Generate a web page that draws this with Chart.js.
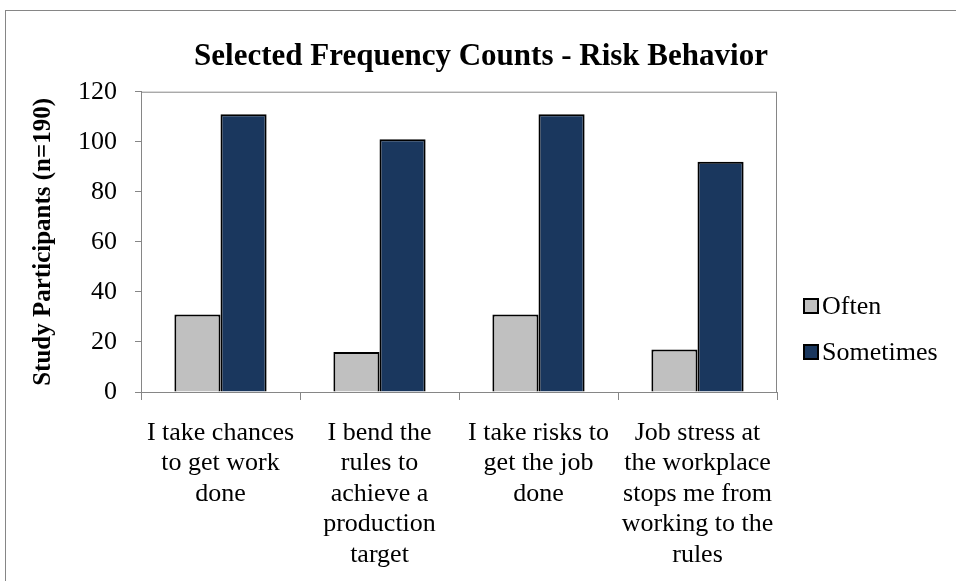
<!DOCTYPE html>
<html>
<head>
<meta charset="utf-8">
<script src="https://cdn.jsdelivr.net/npm/chart.js@4.4.1/dist/chart.umd.min.js"></script>
<style>
    body { margin: 0; background: #ffffff; overflow: hidden; }
    .moldura {
        position: absolute;
        left: 5px;
        top: 10px;
        width: 1100px;
        height: 800px;
        border: 1px solid #868686;
        pointer-events: none;
    }
    #grafico { position: absolute; left: 0; top: 0; }
</style>
</head>
<body>
<div class="moldura"></div>
<canvas id="grafico" width="956" height="581"></canvas>

<script>
// dados do grafico
const titulo = 'Selected Frequency Counts - Risk Behavior';
const categorias = [
    ['I take chances', 'to get work', 'done'],
    ['I bend the', 'rules to', 'achieve a', 'production', 'target'],
    ['I take risks to', 'get the job', 'done'],
    ['Job stress at', 'the workplace', 'stops me from', 'working to the', 'rules']
];
const valoresOften = [31, 16, 31, 17];
const valoresSometimes = [111, 101, 111, 92];
const ticksY = [0, 20, 40, 60, 80, 100, 120];

Chart.defaults.font.family = '"Liberation Serif", "Times New Roman", serif';
Chart.defaults.color = '#000000';

// caixa em volta da area de plotagem (topo e direita)
const bordaArea = {
    id: 'bordaArea',
    beforeDatasetsDraw(chart) {
        const { ctx, chartArea } = chart;
        ctx.save();
        ctx.strokeStyle = '#868686';
        ctx.lineWidth = 1;
        ctx.strokeRect(chartArea.left + 0.5, chartArea.top + 0.5,
            chartArea.right - chartArea.left - 1, chartArea.bottom - chartArea.top);
        ctx.restore();
    }
};

// titulo centralizado no grafico todo (a legenda fica fora da area)
const tituloTopo = {
    id: 'tituloTopo',
    afterDraw(chart) {
        const ctx = chart.ctx;
        ctx.save();
        ctx.font = 'bold 31px "Liberation Serif"';
        ctx.textAlign = 'center';
        ctx.textBaseline = 'middle';
        ctx.fillStyle = '#000000';
        ctx.fillText(titulo, 481, 57);
        ctx.restore();
    }
};

// legenda a direita, desenhada a partir dos datasets
const legendaLateral = {
    id: 'legendaLateral',
    afterDraw(chart) {
        const ctx = chart.ctx;
        const linhasY = [306, 352];
        ctx.save();
        ctx.font = '26px "Liberation Serif"';
        ctx.textBaseline = 'middle';
        ctx.textAlign = 'left';
        chart.data.datasets.forEach(function (ds, i) {
            const y = linhasY[i];
            ctx.fillStyle = ds.backgroundColor;
            ctx.fillRect(803, y - 8, 16, 16);
            ctx.strokeStyle = '#000000';
            ctx.lineWidth = 2;
            ctx.strokeRect(804, y - 7, 14, 14);
            ctx.fillStyle = '#000000';
            ctx.fillText(ds.label, 822, y + 1);
        });
        ctx.restore();
    }
};

const config = {
    type: 'bar',
    data: {
        labels: categorias,
        datasets: [
            {
                label: 'Often',
                data: valoresOften,
                backgroundColor: '#C0C0C0',
                borderColor: '#000000',
                borderWidth: 2
            },
            {
                label: 'Sometimes',
                data: valoresSometimes,
                backgroundColor: '#1A375E',
                borderColor: '#000000',
                borderWidth: 2
            }
        ]
    },
    options: {
        responsive: false,
        animation: false,
        layout: { padding: { left: 0, right: 179, top: 91.7, bottom: 0 } },
        datasets: {
            bar: { categoryPercentage: 0.58, barPercentage: 1.0 }
        },
        plugins: {
            legend: { display: false },
            tooltip: { enabled: false },
            title: { display: false }
        },
        scales: {
            x: {
                grid: {
                    display: true,
                    drawOnChartArea: false,
                    offset: true,
                    color: '#868686',
                    tickLength: 8
                },
                border: { color: '#868686', width: 1 },
                ticks: {
                    autoSkip: false,
                    maxRotation: 0,
                    padding: 18,
                    font: { size: 26, lineHeight: 1.17 },
                    color: '#000000'
                },
                afterFit(scale) { scale.height = 189; }
            },
            y: {
                min: 0,
                max: 120,
                afterBuildTicks(scale) {
                    scale.ticks = ticksY.map(v => ({ value: v }));
                },
                grid: {
                    display: true,
                    drawOnChartArea: false,
                    color: '#868686',
                    tickLength: 6
                },
                border: { color: '#868686', width: 1 },
                ticks: {
                    padding: 18,
                    font: { size: 26 },
                    color: '#000000'
                },
                title: {
                    display: true,
                    text: 'Study Participants (n=190)',
                    font: { size: 25, weight: 'bold' },
                    color: '#000000',
                    padding: { top: 29, bottom: 0 }
                },
                afterFit(scale) { scale.width = 141; }
            }
        }
    },
    plugins: [bordaArea, tituloTopo, legendaLateral]
};

const grafico = new Chart(document.getElementById('grafico'), config);
</script>
</body>
</html>
